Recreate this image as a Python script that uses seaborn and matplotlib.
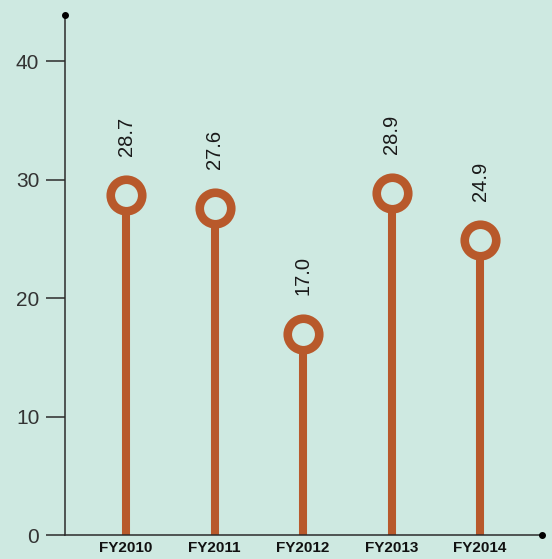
import matplotlib
matplotlib.use("Agg")
import matplotlib.pyplot as plt
import seaborn as sns
import pandas as pd

years = ["FY2010", "FY2011", "FY2012", "FY2013", "FY2014"]
values = [28.7, 27.6, 17.0, 28.9, 24.9]
y_ticks = [0, 10, 20, 30, 40]

BG = "#CEE9E1"
ACCENT = "#B8592B"
AXIS = "#2b2b2b"

sns.set_style("white")
plt.rcParams["font.family"] = ["Liberation Sans", "DejaVu Sans"]

df = pd.DataFrame({"year": years, "value": values})
df["pos"] = range(len(df))

fig = plt.figure(figsize=(5.52, 5.59), dpi=100, facecolor=BG)
ax = fig.add_axes([0.1178, 0.0429, 0.8642, 0.9303])
ax.set_facecolor(BG)

# stems from the baseline up to each value
ax.vlines(df["pos"], 0, df["value"], color=ACCENT, linewidth=5.8, zorder=2)

# hollow ring heads
sns.scatterplot(data=df, x="pos", y="value", ax=ax, s=515, marker="o",
                facecolor=BG, edgecolor=ACCENT, linewidth=6.2, zorder=3,
                legend=False)

# value labels, rotated above each ring
for p, v in zip(df["pos"], df["value"]):
    ax.annotate(f"{v:.1f}", (p, v), xytext=(0, 28), textcoords="offset points",
                rotation=90, ha="center", va="bottom", fontsize=14.5,
                color="#1a1a1a")

ax.set_xlim(-0.69, 4.70)
ax.set_ylim(0, 43.9)
ax.set_yticks(y_ticks)
ax.set_yticklabels([str(t) for t in y_ticks], fontsize=15, color="#333333")
ax.set_xticks(df["pos"])
ax.set_xticklabels(years, fontsize=11, fontweight="bold", color="#111111")
ax.tick_params(axis="y", left=True, direction="out", length=13.5, width=1.1,
               color=AXIS, pad=5)
ax.tick_params(axis="x", bottom=False, length=0, pad=4)
ax.set_xlabel("")
ax.set_ylabel("")

for side in ["top", "right"]:
    ax.spines[side].set_visible(False)
for side in ["left", "bottom"]:
    ax.spines[side].set_color(AXIS)
    ax.spines[side].set_linewidth(1.1)

# arrow-end dots on the axes
ax.plot([-0.69], [43.9], "o", color="black", markersize=4, clip_on=False, zorder=5)
ax.plot([4.70], [0], "o", color="black", markersize=4, clip_on=False, zorder=5)

fig.savefig("out.png", dpi=100, facecolor=BG)
